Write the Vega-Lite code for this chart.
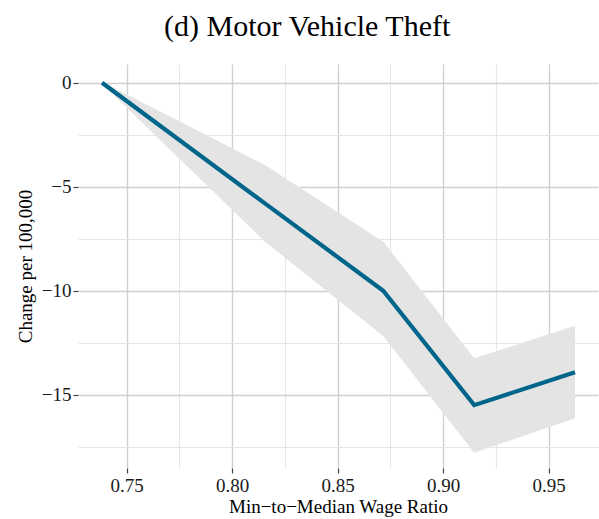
{
  "$schema": "https://vega.github.io/schema/vega-lite/v6.json",
  "width": 520,
  "height": 404,
  "autosize": {"type": "none"},
  "padding": {"left": 78, "top": 64, "right": 1, "bottom": 51},
  "background": "white",
  "config": {"view": {"stroke": null}, "font": "Liberation Serif"},
  "title": {"text": "(d) Motor Vehicle Theft", "font": "Liberation Serif", "fontSize": 30, "fontWeight": "normal", "color": "#000000", "offset": 22, "frame": "bounds", "anchor": "middle"},
  "data": {
    "values": [
      {"ratio": 0.7383, "est": 0.0, "lower": -0.05, "upper": 0.05},
      {"ratio": 0.8155, "est": -5.8, "lower": -7.64, "upper": -3.96},
      {"ratio": 0.8716, "est": -10.0, "lower": -12.18, "upper": -7.64},
      {"ratio": 0.9147, "est": -15.5, "lower": -17.79, "upper": -13.25},
      {"ratio": 0.9625, "est": -13.92, "lower": -16.13, "upper": -11.68}
    ]
  },
  "encoding": {
    "x": {
      "field": "ratio",
      "type": "quantitative",
      "scale": {"domain": [0.7269, 0.9734], "nice": false, "zero": false},
      "axis": {
        "title": "Min−to−Median Wage Ratio",
        "values": [0.75, 0.775, 0.8, 0.825, 0.85, 0.875, 0.9, 0.925, 0.95],
        "labelExpr": "abs(round(datum.value*1000)%50)==0 ? format(datum.value, '.2f') : ''",
        "domain": false,
        "tickSize": 5,
        "tickWidth": 1.2,
        "tickColor": {"condition": {"test": "abs(round(datum.value*1000)%50)==0", "value": "#444444"}, "value": "transparent"},
        "gridColor": {"condition": {"test": "abs(round(datum.value*1000)%50)==0", "value": "#d0d0d0"}, "value": "#e6e6e6"},
        "gridWidth": {"condition": {"test": "abs(round(datum.value*1000)%50)==0", "value": 1.4}, "value": 1.1},
        "labelFont": "Liberation Serif",
        "labelFontSize": 19,
        "labelColor": "#1a1a1a",
        "labelPadding": 3,
        "titleFont": "Liberation Serif",
        "titleFontSize": 19,
        "titleFontWeight": "normal",
        "titleColor": "#000000",
        "titlePadding": 2
      }
    }
  },
  "layer": [
    {
      "mark": {"type": "area", "color": "#e4e4e4", "opacity": 1},
      "encoding": {
        "y": {
          "field": "lower",
          "type": "quantitative",
          "scale": {"domain": [-18.52, 0.9], "nice": false, "zero": false},
          "axis": {
            "title": "Change per 100,000",
            "values": [0, -2.5, -5, -7.5, -10, -12.5, -15, -17.5],
            "labelExpr": "abs(datum.value % 5) == 0 ? format(datum.value, 'd') : ''",
            "domain": false,
            "tickSize": 5,
            "tickWidth": 1.2,
            "tickColor": {"condition": {"test": "abs(datum.value % 5) == 0", "value": "#444444"}, "value": "transparent"},
            "gridColor": {"condition": {"test": "abs(datum.value % 5) == 0", "value": "#d0d0d0"}, "value": "#e6e6e6"},
            "gridWidth": {"condition": {"test": "abs(datum.value % 5) == 0", "value": 1.4}, "value": 1.1},
            "labelFont": "Liberation Serif",
            "labelFontSize": 19,
            "labelColor": "#1a1a1a",
            "labelPadding": 2,
            "titleFont": "Liberation Serif",
            "titleFontSize": 19,
            "titleFontWeight": "normal",
            "titleColor": "#000000",
            "titlePadding": 6
          }
        },
        "y2": {"field": "upper"}
      }
    },
    {
      "mark": {"type": "line", "color": "#00658a", "strokeWidth": 4.2},
      "encoding": {
        "y": {"field": "est", "type": "quantitative", "title": "Change per 100,000"}
      }
    }
  ]
}
